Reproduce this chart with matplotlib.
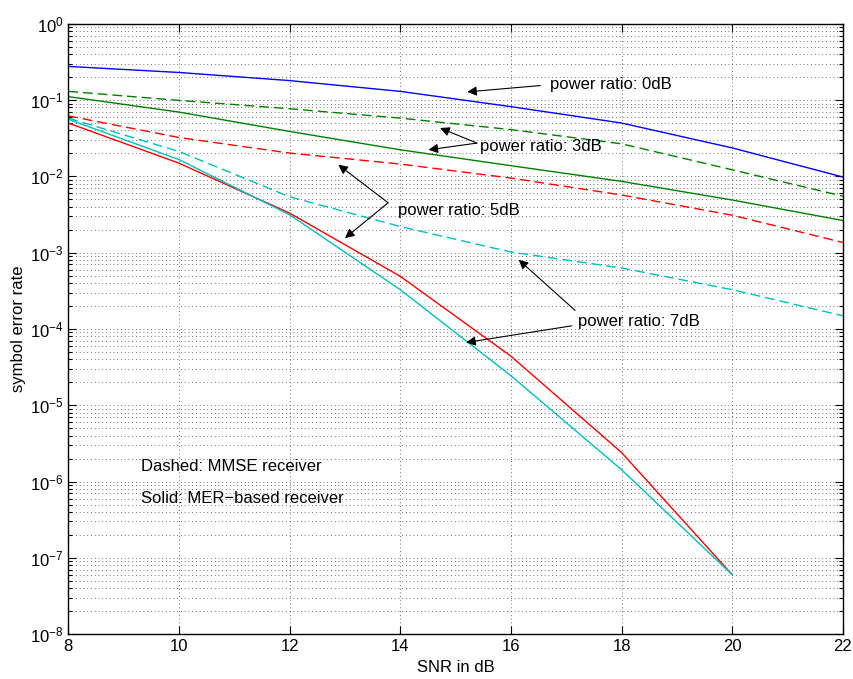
import numpy as np
import matplotlib
matplotlib.use("Agg")
import matplotlib.pyplot as plt
from matplotlib.ticker import LogLocator, NullFormatter, FixedLocator

plt.rcParams['font.family'] = ['Liberation Sans', 'DejaVu Sans']
plt.rcParams['mathtext.fontset'] = 'custom'
plt.rcParams['mathtext.rm'] = 'Liberation Sans'

# SNR grid (dB)
snr = [8, 10, 12, 14, 16, 18, 20, 22]
snr_mer7 = [8, 10, 12, 14, 16, 18, 20]

# Symbol error rates
ser_0db_mer = [0.276, 0.23, 0.18, 0.13, 0.082, 0.05, 0.0236, 0.0098]
ser_3db_mmse = [0.13, 0.099, 0.077, 0.058, 0.041, 0.0267, 0.0122, 0.0055]
ser_3db_mer = [0.111, 0.0696, 0.0388, 0.0223, 0.0138, 0.0086, 0.0049, 0.00264]
ser_5db_mmse = [0.062, 0.0323, 0.0202, 0.0145, 0.0095, 0.0057, 0.0031, 0.00136]
ser_7db_mmse = [0.058, 0.0212, 0.0054, 0.0022, 0.00102, 0.00063, 0.000327, 0.000149]
ser_5db_mer = [0.05, 0.0149, 0.0033, 0.00049, 4.4e-5, 2.4e-6, 6e-8]
ser_7db_mer = [0.056, 0.0166, 0.00314, 0.000327, 2.44e-5, 1.43e-6, 6e-8]

# Annotation texts with their anchor (left, centre) and arrow (tail, tip) points
labels = ["power ratio: 0dB", "power ratio: 3dB", "power ratio: 5dB", "power ratio: 7dB"]
label_pos = [(16.71, 0.158), (15.44, 0.0247), (13.96, 0.00357), (17.22, 1.25e-4)]
arrows = [
    ((16.53, 0.155), (15.21, 0.128)),
    ((15.385, 0.0273), (14.72, 0.043)),
    ((15.385, 0.0273), (14.51, 0.0223)),
    ((13.78, 0.00451), (12.88, 0.0142)),
    ((13.78, 0.00451), (13.0, 0.00155)),
    ((17.16, 1.75e-4), (16.14, 8.07e-4)),
    ((17.10, 1.10e-4), (15.19, 6.65e-5)),
]

fig = plt.figure(figsize=(8.54, 6.79), dpi=100)
ax = fig.add_axes([0.08, 0.066, 0.907, 0.899])

blue = (0, 0, 1)
green = (0, 0.5, 0)
red = (1, 0, 0)
cyan = (0, 0.75, 0.75)
lw = 1.0
dash = (7, 3.6)

ax.semilogy(snr, ser_0db_mer, color=blue, lw=lw)
ax.semilogy(snr, ser_3db_mmse, color=green, lw=lw, dashes=dash)
ax.semilogy(snr, ser_3db_mer, color=green, lw=lw)
ax.semilogy(snr, ser_5db_mmse, color=red, lw=lw, dashes=dash)
ax.semilogy(snr_mer7, ser_5db_mer, color=red, lw=lw)
ax.semilogy(snr, ser_7db_mmse, color=cyan, lw=lw, dashes=dash)
ax.semilogy(snr_mer7, ser_7db_mer, color=cyan, lw=lw)

ax.set_xlim(8, 22)
ax.set_ylim(1e-8, 1)
ax.xaxis.set_major_locator(FixedLocator(snr))
ax.yaxis.set_major_locator(LogLocator(base=10, numticks=20))
ax.yaxis.set_minor_locator(LogLocator(base=10, subs=np.arange(2, 10), numticks=20))
ax.yaxis.set_minor_formatter(NullFormatter())

ax.tick_params(which='both', direction='in', top=True, right=True, labelsize=12, width=0.8)
ax.tick_params(which='major', length=6)
ax.tick_params(which='minor', length=3)
for s in ax.spines.values():
    s.set_linewidth(1.0)

grid_style = dict(color='0.25', linestyle=(0, (1, 3.5)), linewidth=0.6)
ax.grid(True, which='major', axis='both', **grid_style)
ax.grid(True, which='minor', axis='y', **grid_style)
ax.set_axisbelow(True)

ax.set_xlabel("SNR in dB", fontsize=12, labelpad=4)
ax.set_ylabel("symbol error rate", fontsize=12, labelpad=3)

for txt, (x, y) in zip(labels, label_pos):
    ax.text(x, y, txt, fontsize=12, ha='left', va='center')

for tail, tip in arrows:
    ax.annotate('', xy=tip, xytext=tail,
                arrowprops=dict(arrowstyle='-|>', color='k', lw=0.8,
                                mutation_scale=14, shrinkA=0, shrinkB=0))

ax.text(9.31, 1.58e-6, "Dashed: MMSE receiver", fontsize=12, ha='left', va='center')
ax.text(9.31, 5.95e-7, "Solid: MER\u2212based receiver", fontsize=12, ha='left', va='center')

fig.savefig("out.png", dpi=100)
